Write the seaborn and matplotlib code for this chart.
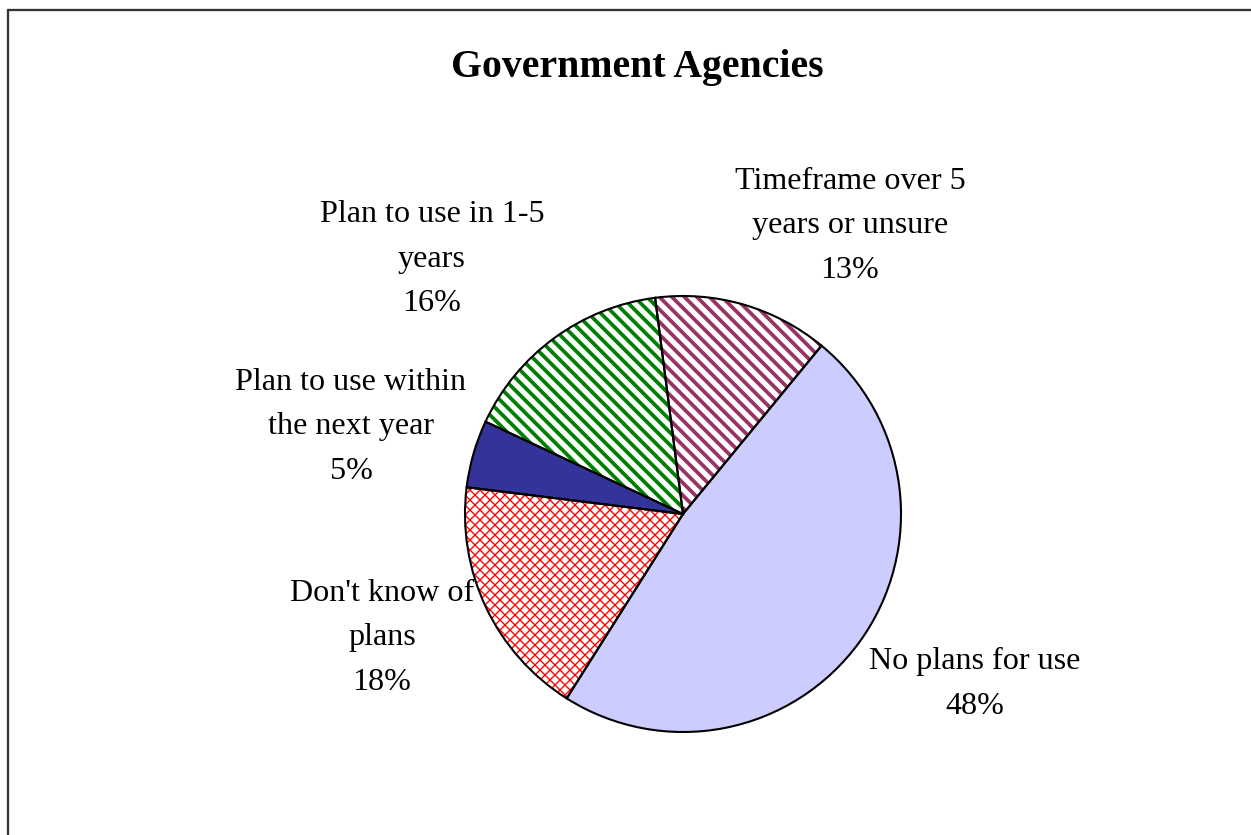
import matplotlib
matplotlib.use("Agg")
import matplotlib.pyplot as plt
from matplotlib.lines import Line2D
import seaborn as sns

# ---- data ----
categories = ["Timeframe over 5\nyears or unsure", "No plans for use",
              "Don't know of\nplans", "Plan to use within\nthe next year",
              "Plan to use in 1-5\nyears"]
values = [13, 48, 18, 5, 16]
face_colors = ["white", "#CCCCFF", "white", "#333399", "white"]
hatch_colors = ["#993366", "#CCCCFF", "#FF0000", "#333399", "#008000"]
hatches = ["\\\\\\\\", None, "xxxxx", None, "\\\\\\\\"]
hatch_widths = [1.8, 0.5, 0.65, 0.5, 1.8]
title = "Government Agencies"

# label anchor positions (pixels from top-left)
label_pos = [(850, 226), (975, 684), (382, 638), (351, 427), (432, 259)]

sns.set_theme(style="white")
plt.rcParams["font.family"] = ["Liberation Serif", "DejaVu Serif"]

W, H, DPI = 1252, 835, 150
fig = plt.figure(figsize=(W / DPI, H / DPI), dpi=DPI)
fig.patch.set_facecolor("white")
ax = fig.add_axes([0, 0, 1, 1])

center = (683, H - 514)
radius = 218

# fill + hatch layer
wedges, _ = ax.pie(values, colors=face_colors, startangle=97.35,
                   counterclock=False, center=center, radius=radius,
                   wedgeprops=dict(linewidth=0))
for w, hc, ht, hw in zip(wedges, hatch_colors, hatches, hatch_widths):
    w.set_edgecolor(hc)
    w.set_linewidth(0)
    if ht:
        w.set_hatch(ht)
        try:
            w.set_hatch_linewidth(hw)
        except AttributeError:
            pass

# outline layer
ax.pie(values, colors=["none"] * len(values), startangle=97.35,
       counterclock=False, center=center, radius=radius,
       wedgeprops=dict(linewidth=1.0, edgecolor="black", facecolor="none"))

total = sum(values)
for cat, v, (px, py) in zip(categories, values, label_pos):
    ax.text(px, H - py, f"{cat}\n{round(100 * v / total)}%", ha="center",
            va="center", fontsize=15.4, color="black", linespacing=1.72,
            multialignment="center")

ax.text(637, H - 67, title, ha="center", va="center", fontsize=19.1,
        fontweight="bold", color="black")

ax.set_xlim(0, W)
ax.set_ylim(0, H)
ax.set_aspect("equal")
ax.axis("off")

# chart-area frame (top and left edges visible)
fig.add_artist(Line2D([8 / W, 1], [1 - 10 / H, 1 - 10 / H], transform=fig.transFigure,
                      color="#333333", linewidth=1.1))
fig.add_artist(Line2D([8 / W, 8 / W], [0, 1 - 10 / H], transform=fig.transFigure,
                      color="#333333", linewidth=1.1))

fig.savefig("out.png", dpi=DPI, facecolor="white")
